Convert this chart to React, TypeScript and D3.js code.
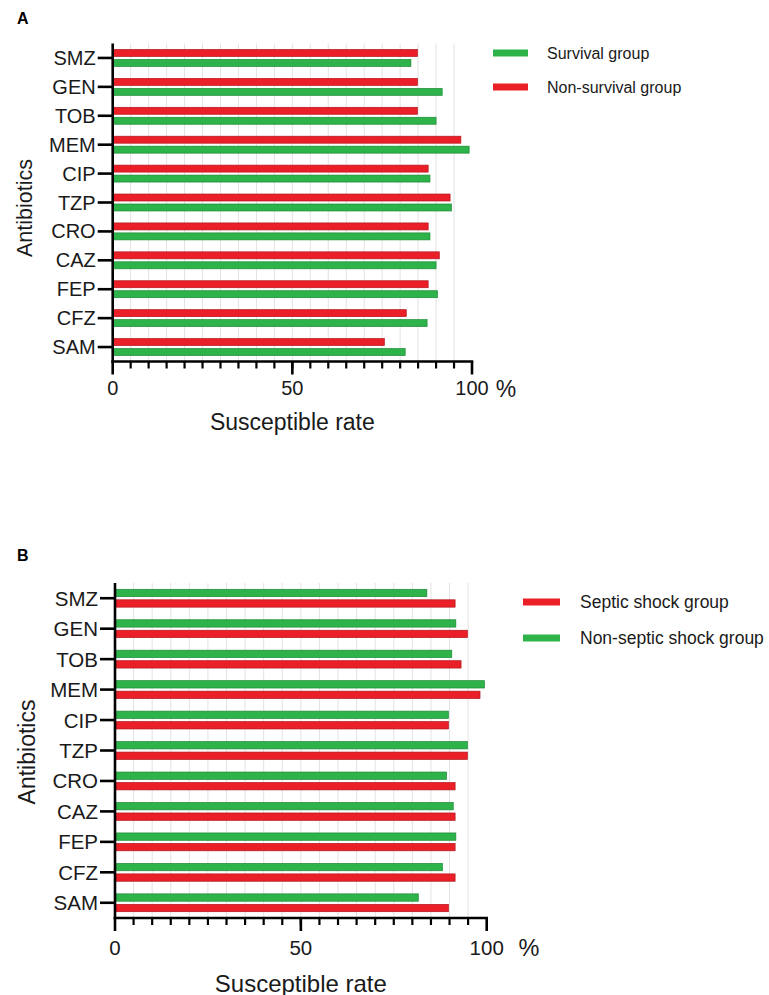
import React from "react";
import * as d3 from "d3";

const categories = ["SMZ", "GEN", "TOB", "MEM", "CIP", "TZP", "CRO", "CAZ", "FEP", "CFZ", "SAM"];

// panel A
const nonSurvival = [84.8, 84.8, 84.8, 96.9, 87.8, 93.9, 87.8, 90.9, 87.8, 81.7, 75.6];
const survival = [83.0, 91.7, 90.0, 99.2, 88.3, 94.3, 88.3, 90.0, 90.4, 87.5, 81.4];

// panel B
const nonSepticShock = [83.9, 91.7, 90.6, 99.4, 89.7, 94.8, 89.2, 91.0, 91.7, 88.1, 81.6];
const septicShock = [91.5, 94.8, 93.1, 98.2, 89.7, 94.8, 91.5, 91.5, 91.5, 91.5, 89.7];

const xTickLabels = [0, 50, 100];

const GREEN = "#2db34a";
const GREEN_EDGE = "#1e8a36";
const RED = "#ea1f27";
const RED_EDGE = "#b3151c";
const FONT = "'Liberation Sans', Arial, sans-serif";

type Series = { name: string; values: number[]; fill: string; edge: string };

type PanelProps = {
  letter: string;
  letterY: number;
  xRange: [number, number];
  yRange: [number, number];
  series: Series[]; // drawn top to bottom inside each band
  legend: Series[];
  legendX: [number, number];
  legendTextX: number;
  legendY: number[];
  legendFont: number;
  catFont: number;
  tickFont: number;
  tickLabelY: number;
  percentX: number;
  titleY: number;
  titleFont: number;
  yTitle: [number, number];
  yTitleFont: number;
};

const Panel = (p: PanelProps) => {
  const x = d3.scaleLinear().domain([0, 100]).range(p.xRange);
  const y = d3.scaleBand<string>().domain(categories).range(p.yRange).padding(0);
  const inner = d3
    .scaleBand<string>()
    .domain(p.series.map((s) => s.name))
    .range([0, y.step()])
    .paddingInner(0.3)
    .paddingOuter(0.6);

  const [x0, x1] = p.xRange;
  const [yTop, yBottom] = p.yRange;
  const minor = d3.range(5, 100, 5);

  return (
    <g fontFamily={FONT} fill="#1a1a1a">
      <text x={17} y={p.letterY} fontSize={16} fontWeight="bold" fill="#000">
        {p.letter}
      </text>

      {minor.map((v) => (
        <line key={"g" + v} x1={x(v)} x2={x(v)} y1={yTop} y2={yBottom} stroke="#e2e2e2" strokeWidth={1} />
      ))}

      {p.series.map((s) =>
        categories.map((c, i) => (
          <rect
            key={s.name + c}
            x={x(0)}
            y={(y(c) ?? 0) + (inner(s.name) ?? 0)}
            width={x(s.values[i]) - x(0)}
            height={inner.bandwidth()}
            fill={s.fill}
            stroke={s.edge}
            strokeWidth={0.7}
          />
        ))
      )}

      {/* y axis */}
      <line x1={x0} x2={x0} y1={yTop} y2={yBottom + 1.2} stroke="#000" strokeWidth={2.6} />
      {categories.map((c) => {
        const cy = (y(c) ?? 0) + y.bandwidth() / 2;
        return (
          <g key={"t" + c}>
            <line x1={x0 - 15} x2={x0} y1={cy} y2={cy} stroke="#000" strokeWidth={2.6} />
            <text x={x0 - 17} y={cy} textAnchor="end" dominantBaseline="central" fontSize={p.catFont}>
              {c}
            </text>
          </g>
        );
      })}

      {/* x axis */}
      <line x1={x0 - 1.3} x2={x1 + 1.3} y1={yBottom} y2={yBottom} stroke="#000" strokeWidth={2.6} />
      {minor.map((v) => (
        <line key={"m" + v} x1={x(v)} x2={x(v)} y1={yBottom} y2={yBottom + 7} stroke="#000" strokeWidth={2.2} />
      ))}
      {xTickLabels.map((v) => (
        <g key={"x" + v}>
          <line x1={x(v)} x2={x(v)} y1={yBottom} y2={yBottom + 13} stroke="#000" strokeWidth={2.6} />
          <text x={x(v)} y={p.tickLabelY} textAnchor="middle" dominantBaseline="central" fontSize={p.tickFont}>
            {v}
          </text>
        </g>
      ))}
      <text x={p.percentX} y={p.tickLabelY + 1} textAnchor="middle" dominantBaseline="central" fontSize={p.tickFont + 3}>
        %
      </text>

      <text x={(x0 + x1) / 2} y={p.titleY} textAnchor="middle" dominantBaseline="central" fontSize={p.titleFont}>
        Susceptible rate
      </text>
      <text
        transform={`translate(${p.yTitle[0]},${p.yTitle[1]}) rotate(-90)`}
        textAnchor="middle"
        dominantBaseline="central"
        fontSize={p.yTitleFont}
      >
        Antibiotics
      </text>

      {p.legend.map((s, i) => (
        <g key={"l" + s.name}>
          <rect
            x={p.legendX[0]}
            y={p.legendY[i] - 3.5}
            width={p.legendX[1] - p.legendX[0]}
            height={7}
            fill={s.fill}
          />
          <text x={p.legendTextX} y={p.legendY[i]} dominantBaseline="central" fontSize={p.legendFont}>
            {s.name}
          </text>
        </g>
      ))}
    </g>
  );
};

export default function App() {
  const sSurv: Series = { name: "Survival group", values: survival, fill: GREEN, edge: GREEN_EDGE };
  const sNonSurv: Series = { name: "Non-survival group", values: nonSurvival, fill: RED, edge: RED_EDGE };
  const sSeptic: Series = { name: "Septic shock group", values: septicShock, fill: RED, edge: RED_EDGE };
  const sNonSeptic: Series = { name: "Non-septic shock group", values: nonSepticShock, fill: GREEN, edge: GREEN_EDGE };

  return (
    <svg
      width={769}
      height={995}
      viewBox="0 0 769 995"
      style={{ position: "absolute", left: 0, top: 0, background: "#fff" }}
    >
      <rect width={769} height={995} fill="#fff" />
      <Panel
        letter="A"
        letterY={24}
        xRange={[112.7, 472]}
        yRange={[43.5, 361.5]}
        series={[sNonSurv, sSurv]}
        legend={[sSurv, sNonSurv]}
        legendX={[493, 528]}
        legendTextX={547}
        legendY={[53, 87]}
        legendFont={16}
        catFont={20}
        tickFont={20}
        tickLabelY={388}
        percentX={506}
        titleY={422}
        titleFont={23}
        yTitle={[25, 208]}
        yTitleFont={21.5}
      />
      <Panel
        letter="B"
        letterY={561}
        xRange={[115, 486.7]}
        yRange={[583, 918]}
        series={[sNonSeptic, sSeptic]}
        legend={[sSeptic, sNonSeptic]}
        legendX={[523, 560]}
        legendTextX={580}
        legendY={[602, 638]}
        legendFont={17.5}
        catFont={20.5}
        tickFont={20.5}
        tickLabelY={947}
        percentX={529}
        titleY={983}
        titleFont={24}
        yTitle={[27, 752]}
        yTitleFont={23}
      />
    </svg>
  );
}
